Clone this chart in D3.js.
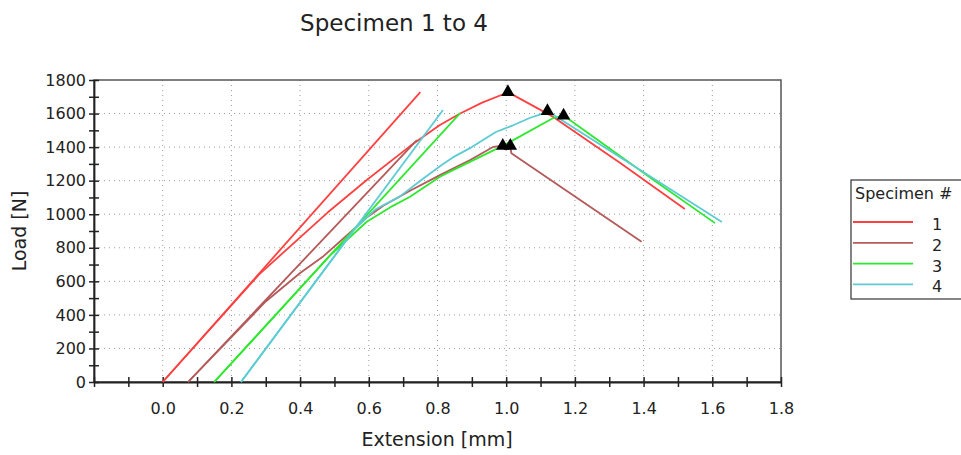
<!DOCTYPE html>
<html>
<head>
<meta charset="utf-8">
<script src="https://cdn.jsdelivr.net/npm/d3@7/dist/d3.min.js"></script>
<style>
body{margin:0;background:#fff;}
text{font-family:"DejaVu Sans",Verdana,sans-serif;fill:#222;}
</style>
</head>
<body>
<svg id="chart" width="961" height="455"></svg>
<script>
// values
var specimens = ['1','2','3','4'];

// load curves, [extension mm, load N]
var curve1 = [[0.0,0],[0.28,640],[0.48,1010],[0.594,1204],[0.72,1406],[0.807,1532],[0.866,1600],[0.93,1665],[0.995,1718],[1.005,1728],[1.137,1580],[1.332,1305],[1.52,1031]];
var curve2 = [[0.074,0],[0.30,480],[0.40,650],[0.468,750],[0.594,980],[0.642,1050],[0.72,1140],[0.807,1233],[0.895,1323],[0.963,1402],[0.99,1408],[1.012,1408],[1.015,1363],[1.394,836]];
var curve3 = [[0.15,0],[0.49,760],[0.594,955],[0.67,1050],[0.72,1104],[0.807,1223],[0.845,1263],[0.982,1400],[1.01,1430],[1.137,1573],[1.167,1588],[1.428,1206],[1.608,947]];
var curve4 = [[0.228,0],[0.56,915],[0.62,1030],[0.69,1105],[0.75,1200],[0.81,1290],[0.85,1345],[0.90,1400],[0.97,1490],[1.02,1530],[1.07,1575],[1.10,1595],[1.12,1615],[1.628,953]];

// straight modulus lines
var fit1 = [[0.0,0],[0.75,1728]];
var fit2 = [[0.074,0],[0.74,1442]];
var fit3 = [[0.15,0],[0.866,1603]];
var fit4 = [[0.228,0],[0.816,1621]];

// black triangle markers
var peaks = [[1.005,1728],[1.12,1615],[1.167,1588],[0.99,1408],[1.012,1408]];

var xTickValues = [0.0,0.2,0.4,0.6,0.8,1.0,1.2,1.4,1.6,1.8];
var yTickValues = [0,200,400,600,800,1000,1200,1400,1600,1800];

var COLORS = ['#ff4040','#b45a5a','#2ee82e','#5ccbd2'];
var plot = {left:94,right:781,top:80,bottom:382};

var curves = [curve1,curve2,curve3,curve4];
var fits = [fit1,fit2,fit3,fit4];

var svg = d3.select('#chart');
var x = d3.scaleLinear().domain([-0.2,1.8]).range([plot.left,plot.right]);
var y = d3.scaleLinear().domain([0,1800]).range([plot.bottom,plot.top]);

// title
svg.append('text').attr('x',394).attr('y',31)
  .attr('text-anchor','middle').attr('font-size','23px').text('Specimen 1 to 4');

// dotted grid
var grid = svg.append('g').attr('stroke','#9a9a9a').attr('stroke-width',1).attr('stroke-dasharray','1,4');
grid.selectAll('line.v').data(xTickValues.filter(function(d){return d<1.8;})).enter()
  .append('line').attr('class','v')
  .attr('x1',function(d){return x(d);}).attr('x2',function(d){return x(d);})
  .attr('y1',plot.top).attr('y2',plot.bottom);
grid.selectAll('line.h').data(yTickValues.filter(function(d){return d>0 && d<1800;})).enter()
  .append('line').attr('class','h')
  .attr('x1',plot.left).attr('x2',plot.right)
  .attr('y1',function(d){return y(d);}).attr('y2',function(d){return y(d);});

// frame
svg.append('rect').attr('x',plot.left).attr('y',plot.top)
  .attr('width',plot.right-plot.left).attr('height',plot.bottom-plot.top)
  .attr('fill','none').attr('stroke','#555').attr('stroke-width',1.5);

// x axis, minor ticks every 0.1
var xMinor = d3.range(-2,19).map(function(i){return i/10;});
var xAxis = d3.axisBottom(x).tickValues(xMinor).tickSizeInner(5).tickSizeOuter(0)
  .tickFormat(function(d){
    var lab = xTickValues.find(function(v){return Math.abs(v-d)<1e-6;});
    return lab===undefined ? '' : d3.format('.1f')(lab);
  });
var gx = svg.append('g').attr('transform','translate(0,'+plot.bottom+')').call(xAxis);
gx.selectAll('.tick line').attr('y1',-5).attr('stroke','#222').attr('stroke-width',1.5);
gx.selectAll('.tick text').attr('y',21).attr('font-size','16px').attr('fill','#222')
  .attr('font-family','"DejaVu Sans",Verdana,sans-serif');
gx.select('.domain').attr('stroke','#222').attr('stroke-width',1.8);

// y axis, minor ticks every 100
var yMinor = d3.range(0,19).map(function(i){return i*100;});
var yAxis = d3.axisLeft(y).tickValues(yMinor).tickSizeInner(5).tickSizeOuter(0)
  .tickFormat(function(d){return yTickValues.indexOf(d)>=0 ? d : '';});
var gy = svg.append('g').attr('transform','translate('+plot.left+',0)').call(yAxis);
gy.selectAll('.tick line').attr('x1',5).attr('stroke','#222').attr('stroke-width',1.5);
gy.selectAll('.tick text').attr('x',-8).attr('font-size','16px').attr('fill','#222')
  .attr('font-family','"DejaVu Sans",Verdana,sans-serif');
gy.select('.domain').attr('stroke','#222').attr('stroke-width',1.8);

// axis titles
svg.append('text').attr('x',437).attr('y',446).attr('text-anchor','middle')
  .attr('font-size','19px').text('Extension [mm]');
svg.append('text').attr('transform','translate(26,231) rotate(-90)').attr('text-anchor','middle')
  .attr('font-size','19px').text('Load [N]');

// lines
var line = d3.line().x(function(d){return x(d[0]);}).y(function(d){return y(d[1]);});
var lines = svg.append('g').attr('fill','none').attr('stroke-width',1.8).attr('stroke-linejoin','round');
specimens.forEach(function(s,i){
  lines.append('path').datum(fits[i]).attr('d',line).attr('stroke',COLORS[i]);
  lines.append('path').datum(curves[i]).attr('d',line).attr('stroke',COLORS[i]);
});

// peak markers
svg.append('g').selectAll('path').data(peaks).enter().append('path')
  .attr('d',d3.symbol().type(d3.symbolTriangle).size(78))
  .attr('transform',function(d){return 'translate('+x(d[0])+','+y(d[1])+')';})
  .attr('fill','#000');

// legend
var leg = svg.append('g');
leg.append('rect').attr('x',851).attr('y',180).attr('width',130).attr('height',119)
  .attr('fill','#fff').attr('stroke','#333').attr('stroke-width',1.2);
leg.append('text').attr('x',855).attr('y',199).attr('font-size','16px').text('Specimen #');
var rows = leg.selectAll('g.row').data(specimens).enter().append('g').attr('class','row')
  .attr('transform',function(d,i){return 'translate(0,'+(222+i*20.8)+')';});
rows.append('line').attr('x1',853).attr('x2',913).attr('y1',0).attr('y2',0)
  .attr('stroke',function(d,i){return COLORS[i];}).attr('stroke-width',1.8);
rows.append('text').attr('x',937).attr('y',8).attr('text-anchor','middle')
  .attr('font-size','16px').text(function(d){return d;});
</script>
</body>
</html>
